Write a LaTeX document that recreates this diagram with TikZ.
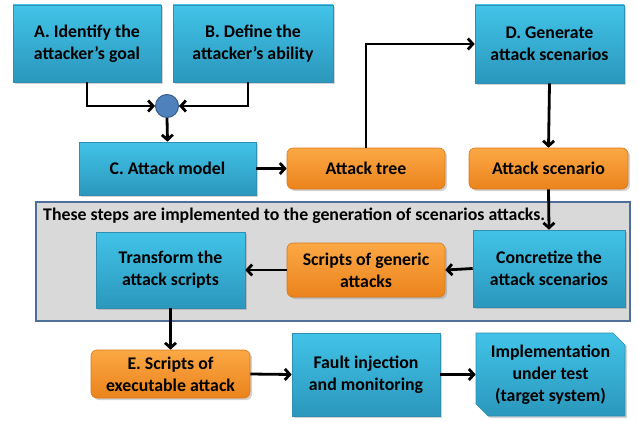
\documentclass[tikz,border=0pt]{standalone}
\usepackage{fontspec}
\setmainfont{Carlito}
\usetikzlibrary{arrows.meta,shadows,shapes.misc,shapes.geometric}
\definecolor{bluetop}{HTML}{42C3E8}
\definecolor{bluebot}{HTML}{2B97BC}
\definecolor{blueedge}{HTML}{2E8FB2}
\definecolor{orgtop}{HTML}{FBA845}
\definecolor{orgbot}{HTML}{EB831C}
\definecolor{orgedge}{HTML}{D9781A}
\definecolor{grayfill}{HTML}{D9D9D9}
\definecolor{grayedge}{HTML}{4F6E9A}
\definecolor{circfill}{HTML}{4F81BD}
\definecolor{circedge}{HTML}{385D8A}
\tikzset{
  x=1pt,y=-1pt,
  txt/.style={font=\fontsize{17.8}{21.8}\selectfont\bfseries, align=center, text=black, inner sep=0pt},
  bluebox/.style={txt, rectangle, top color=bluetop, bottom color=bluebot, draw=blueedge, line width=0.6pt,
    drop shadow={shadow xshift=2pt, shadow yshift=-2pt, opacity=0.35}},
  orgbox/.style={txt, rectangle, rounded corners=6pt, top color=orgtop, bottom color=orgbot, draw=orgedge, line width=0.6pt,
    drop shadow={shadow xshift=2pt, shadow yshift=-2pt, opacity=0.35}},
  arr/.style={line width=2.8pt, -{Straight Barb[length=5pt,width=11pt,line width=2.8pt]}},
}
\begin{document}
\begin{tikzpicture}
\useasboundingbox (0,0) rectangle (639,420);
% gray group box
\node[draw=grayedge, fill=grayfill, line width=1.2pt, minimum width=594, minimum height=119, inner sep=0pt] (grp) at (333,261.5) {};
\node[txt, anchor=west] (grptxt) at (43,216) {These steps are implemented to the generation of scenarios attacks.};

\node[bluebox, minimum width=148, minimum height=77] (A) at (87,43.5) {A. Identify the\\attacker’s goal};
\node[bluebox, minimum width=160, minimum height=77] (B) at (253,43.5) {B. Define the\\attacker’s ability};
\node[circle, fill=circfill, draw=circedge, line width=1pt, minimum size=23, inner sep=0pt] (circ) at (167,106) {};
\node[bluebox, minimum width=177, minimum height=53] (C) at (167.5,168.5) {C. Attack model};
\node[orgbox, minimum width=158, minimum height=41] (AT) at (366,168.5) {Attack tree};
\node[bluebox, minimum width=149, minimum height=78] (D) at (549.5,44) {D. Generate\\attack scenarios};
\node[orgbox, minimum width=159, minimum height=41] (AS) at (548.5,168.5) {Attack scenario};
\node[bluebox, minimum width=152, minimum height=77] (CO) at (549,268.5) {Concretize the\\attack scenarios};
\node[orgbox, minimum width=158, minimum height=54] (SG) at (366,270) {Scripts of generic\\attacks};
\node[bluebox, minimum width=149, minimum height=76] (TR) at (170.5,270) {Transform the\\attack scripts};
\node[orgbox, minimum width=159, minimum height=48] (E) at (170.5,374) {E. Scripts of\\executable attack};
\node[bluebox, minimum width=148, minimum height=83] (F) at (366,374.5) {Fault injection\\and monitoring};
\node[bluebox, chamfered rectangle, chamfered rectangle corners={north east,south west}, chamfered rectangle xsep=6pt, chamfered rectangle ysep=6pt, minimum width=149, minimum height=83] (IM) at (550.5,374.5) {Implementation\\under test\\(target system)};

% connectors
\draw[arr] (A.south) |- (circ.west);
\draw[arr] ([xshift=-5]B.south) |- (circ.east);
\draw[arr] (circ.south) -- (C.north);
\draw[arr] (C.east) -- (AT.west);
\draw[arr] (AT.north) |- (D.west);
\draw[arr] (D.south) -- (AS.north);
\draw[arr] (AS.south) -- (CO.north);
\draw[arr] (CO.west) -- (SG.east);
\draw[arr] (SG.west) -- (TR.east);
\draw[arr] (TR.south) -- (E.north);
\draw[arr] (E.east) -- (F.west);
\draw[arr] (F.east) -- (IM.west);
\end{tikzpicture}
\end{document}
